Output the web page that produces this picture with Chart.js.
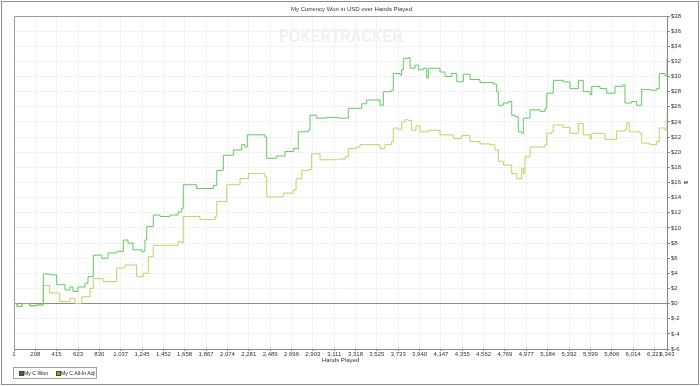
<!DOCTYPE html>
<html>
<head>
<meta charset="utf-8">
<script src="https://cdn.jsdelivr.net/npm/chart.js@4/dist/chart.umd.min.js"></script>
<style>
	body { margin: 0; background: #fff; }
	#wrap { position: relative; width: 700px; height: 386px; background: #fff; }
	#frame { position: absolute; left: 1px; top: 1px; width: 696px; height: 382px; border: 1px solid #8c8c8c; pointer-events: none; }
	#legend { position: absolute; left: 13px; top: 367px; width: 82px; height: 10px; border: 1px solid #a0a0a0; white-space: nowrap;
		font: 5.2px 'Liberation Sans', Arial, sans-serif; color: #222; }
	#legend span { position: absolute; top: 2px; line-height: 6px; }
	#legend span.sw { top: 3px; width: 3px; height: 3px; border: 1px solid #444; }
</style>
</head>
<body>
<div id="wrap">
	<canvas id="won_chart" width="700" height="386"></canvas>
	<div id="legend">
		<span class="sw" style="left:5px;background:#0b8c0b"></span><span style="left:10px">My C Won</span>
		<span class="sw" style="left:42px;background:#a3a300"></span><span style="left:47px">My C All-In Adj</span>
	</div>
	<div id="frame"></div>
</div>
<script>
// x axis tick values (hands)
const handTicks = [1, 208, 415, 623, 830, 1037, 1245, 1452, 1658, 1867, 2074, 2281, 2489, 2696, 2903,
	3111, 3318, 3525, 3733, 3940, 4147, 4355, 4562, 4769, 4977, 5184, 5392, 5599, 5806, 6014, 6221, 6343];

// My C Won
const wonHands = [1, 30, 79, 156, 215, 283, 286, 351, 416, 496,
	545, 574, 623, 691, 720, 758, 771, 853, 914, 998,
	1063, 1108, 1157, 1241, 1273, 1290, 1354, 1419, 1516, 1594,
	1630, 1645, 1775, 1937, 1970, 2034, 2131, 2213, 2245, 2267,
	2439, 2455, 2552, 2633, 2714, 2762, 2859, 2876, 2941, 3038,
	3151, 3216, 3248, 3313, 3378, 3426, 3556, 3588, 3669, 3685,
	3750, 3766, 3782, 3830, 3847, 3895, 3928, 3976, 4009, 4025,
	4138, 4187, 4252, 4301, 4365, 4430, 4527, 4608, 4656, 4689,
	4705, 4753, 4802, 4835, 4867, 4899, 4932, 4948, 5013, 5110,
	5158, 5175, 5223, 5239, 5336, 5401, 5482, 5530, 5595, 5612,
	5692, 5757, 5838, 5918, 5935, 6000, 6048, 6097, 6178, 6243,
	6268, 6324, 6343];
const wonValues = [0, -0.4, 0, -0.3, -0.2, -0.1, 3.9, 3.8, 2.5, 1.8,
	2.2, 1.6, 2.2, 2.7, 3.55, 3.5, 6.4, 6.0, 6.7, 6.9,
	8.4, 8.0, 7.1, 6.9, 8.4, 10.2, 11.7, 11.5, 11.7, 12.1,
	12.6, 15.7, 15.2, 15.6, 17.6, 19.6, 20.3, 21.0, 20.7, 22.3,
	22.0, 19.2, 19.5, 20.1, 20.5, 22.7, 22.9, 24.9, 24.5, 24.6,
	24.5, 24.5, 25.8, 25.8, 26.4, 26.9, 26.2, 28.0, 28.2, 30.4,
	30.2, 30.9, 32.4, 32.5, 31.1, 31.5, 30.9, 31.1, 29.8, 31.1,
	30.6, 30.0, 30.4, 29.3, 30.3, 29.6, 29.2, 29.2, 29.0, 28.0,
	26.2, 26.5, 26.7, 24.9, 24.7, 22.7, 22.5, 24.5, 25.6, 25.4,
	25.8, 27.8, 27.8, 29.5, 29.3, 28.4, 29.5, 28.0, 27.6, 28.7,
	28.4, 27.8, 28.7, 28.9, 26.5, 26.7, 26.2, 28.3, 28.2, 28.4,
	30.4, 30.1, 32.4];

// My C All-In Adj
const adjHands = [1, 30, 79, 156, 215, 283, 286, 347, 445, 545,
	594, 659, 739, 771, 866, 998, 1079, 1192, 1257, 1306,
	1354, 1451, 1594, 1630, 1645, 1807, 1953, 1970, 2067, 2196,
	2277, 2439, 2455, 2617, 2714, 2741, 2796, 2859, 2892, 2973,
	3103, 3151, 3216, 3248, 3329, 3362, 3556, 3604, 3669, 3685,
	3733, 3766, 3798, 3830, 3863, 3905, 3944, 4025, 4138, 4203,
	4268, 4349, 4430, 4527, 4624, 4672, 4705, 4753, 4818, 4835,
	4867, 4883, 4932, 4948, 4964, 5013, 5110, 5158, 5175, 5223,
	5239, 5336, 5401, 5482, 5530, 5595, 5612, 5741, 5854, 5935,
	5951, 5976, 6080, 6097, 6178, 6243, 6268, 6324, 6343];
const adjValues = [0, -0.4, 0, -0.3, -0.2, -0.1, 2.4, 1.4, 0.25, 0.7,
	0, 0.9, 2.0, 3.3, 2.9, 4.7, 5.1, 3.55, 4.0, 6.2,
	7.7, 7.7, 8.2, 8.0, 11.5, 11.1, 11.5, 13.5, 15.7, 16.5,
	17.2, 16.7, 14.1, 14.6, 15.0, 16.5, 17.6, 17.7, 19.8, 19.0,
	19.0, 19.1, 19.4, 20.5, 20.7, 21.0, 20.5, 21.0, 21.4, 23.2,
	23.0, 24.0, 24.3, 24.2, 22.9, 23.5, 22.7, 22.9, 22.3, 22.3,
	21.8, 22.2, 21.4, 21.1, 21.0, 20.3, 18.8, 18.3, 18.3, 17.2,
	17.2, 16.5, 17.9, 17.2, 19.4, 20.7, 20.7, 21.0, 22.5, 22.7,
	23.6, 23.3, 22.5, 23.8, 22.3, 21.8, 22.5, 21.7, 22.8, 23.0,
	23.9, 22.7, 22.5, 21.2, 21.0, 21.4, 23.2, 22.9, 25.1];

const toPoints = (xs, ys) => xs.map((x, i) => ({ x: x, y: ys[i] }));

const tinyFont = { family: "'Liberation Sans', Arial, sans-serif", size: 6, lineHeight: 1, weight: 'normal' };

// watermark + plot frame
const chartDecor = {
	id: 'chartDecor',
	beforeDatasetsDraw(chart) {
		const ctx = chart.ctx;
		const a = chart.chartArea;
		ctx.save();
		ctx.fillStyle = '#f0f0f0';
		ctx.font = "bold 18px 'Liberation Sans', Arial, sans-serif";
		ctx.textAlign = 'center';
		ctx.textBaseline = 'middle';
		ctx.fillText('POKERTRACKER', 341, 37, 124);
		ctx.strokeStyle = '#9a9a9a';
		ctx.lineWidth = 1;
		ctx.beginPath();
		ctx.moveTo(a.left + 0.5, a.bottom);
		ctx.lineTo(a.left + 0.5, a.top + 0.5);
		ctx.lineTo(a.right, a.top + 0.5);
		ctx.stroke();
		ctx.restore();
	}
};

const data = {
	datasets: [{
		label: 'My C Won',
		data: toPoints(wonHands, wonValues),
		borderColor: '#62c862',
		backgroundColor: '#0b8c0b',
		borderWidth: 1,
		pointRadius: 0,
		stepped: true,
		fill: false
	}, {
		label: 'My C All-In Adj',
		data: toPoints(adjHands, adjValues),
		borderColor: '#cccc66',
		backgroundColor: '#a3a300',
		borderWidth: 1,
		pointRadius: 0,
		stepped: true,
		fill: false
	}]
};

const config = {
	type: 'line',
	data: data,
	plugins: [chartDecor],
	options: {
		responsive: false,
		animation: false,
		layout: {
			padding: { top: 0, left: 14, right: 11, bottom: 23 }
		},
		scales: {
			x: {
				type: 'linear',
				min: 1,
				max: 6343,
				afterBuildTicks: (scale) => {
					scale.ticks = handTicks.map(v => ({ value: v }));
				},
				afterFit: (scale) => { scale.height = 14; },
				ticks: {
					autoSkip: false,
					maxRotation: 0,
					padding: 0,
					color: '#333',
					font: tinyFont,
					callback: (v) => v.toLocaleString('en-US')
				},
				grid: {
					color: '#f2f2f2',
					tickColor: '#888',
					tickLength: 2
				},
				border: { color: '#888' },
				title: {
					display: true,
					text: 'Hands Played',
					color: '#333',
					font: tinyFont,
					padding: 0
				}
			},
			y: {
				position: 'right',
				min: -6,
				max: 38,
				afterFit: (scale) => { scale.width = 22; },
				ticks: {
					stepSize: 2,
					padding: 1,
					color: '#333',
					font: tinyFont,
					callback: (v) => '$' + v
				},
				grid: {
					color: (c) => c.tick && c.tick.value === 0 ? '#8a8a8a' : '#f2f2f2',
					tickColor: '#888',
					tickLength: 3
				},
				border: { color: '#888' },
				title: {
					display: true,
					text: '$',
					color: '#333',
					font: tinyFont,
					padding: 0
				}
			}
		},
		plugins: {
			legend: {
				display: false
			},
			tooltip: {
				enabled: false
			},
			title: {
				display: true,
				text: 'My Currency Won in USD over Hands Played',
				color: '#333',
				font: tinyFont,
				padding: { top: 6, bottom: 4 }
			}
		}
	}
};

var ctx = document.getElementById("won_chart");
if (ctx != null) {
	const chart = new Chart(ctx, config);
}
</script>
</body>
</html>
